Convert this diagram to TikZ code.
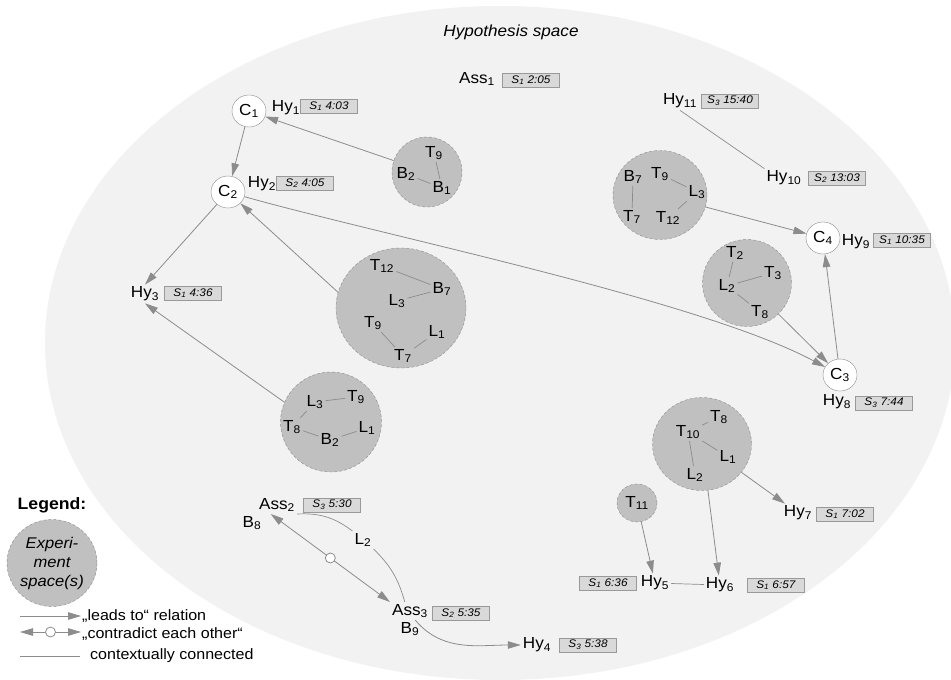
\documentclass[tikz,border=0pt]{standalone}
\usepackage{fontspec}
\setmainfont[FakeStretch=1.07]{Liberation Sans}
\usepackage{xcolor}
\usepackage{tikz}
\usetikzlibrary{arrows.meta, shapes.geometric, positioning}

\definecolor{hspace}{HTML}{F2F2F2}
\definecolor{espfill}{HTML}{C0C0C0}
\definecolor{linegrey}{HTML}{8C8C8C}
\definecolor{boxfill}{HTML}{D9D9D9}
\definecolor{boxline}{HTML}{999999}

\newcommand{\sx}[1]{\textsubscript{#1}}
\newcommand{\stamp}[2]{\textit{S\sx{#1} #2}}

\tikzset{
  lab/.style={font=\fontsize{16}{18}\selectfont, inner sep=2pt},
  tbox/.style={draw=boxline, fill=boxfill, font=\fontsize{11}{12}\selectfont,
    minimum width=57pt, minimum height=14pt, inner sep=0pt},
  cnode/.style={ellipse, draw=linegrey, fill=white, minimum width=34pt,
    minimum height=32pt, inner sep=0pt, font=\fontsize{16}{18}\selectfont},
  espace/.style={ellipse, draw=linegrey, dash pattern=on 3pt off 2pt,
    fill=espfill, inner sep=0pt, font=\fontsize{16}{18}\selectfont},
  leads/.style={draw=linegrey, line width=0.8pt, -{Triangle[length=13pt, width=7.5pt]}},
  contra/.style={draw=linegrey, line width=0.8pt,
    {Triangle[length=13pt, width=7.5pt]}-{Triangle[length=13pt, width=7.5pt]}},
  ctx/.style={draw=linegrey, line width=0.7pt},
  ocirc/.style={circle, draw=linegrey, fill=white, minimum size=10pt, inner sep=0pt},
  legtxt/.style={font=\fontsize{15}{17}\selectfont, inner sep=1pt},
}

\begin{document}
\begin{tikzpicture}[x=1pt, y=1pt]

    % =================================================================
    % 1. HYPOTHESIS SPACE
    % =================================================================
    \useasboundingbox (0,0) rectangle (951,-680);
    \fill[white] (0,0) rectangle (951,-680);
    \fill[hspace] (500,-343) ellipse [x radius=455, y radius=337];
    \node[font=\fontsize{16}{18}\selectfont\itshape] (htitle) at (511,-32) {Hypothesis space};

    % =================================================================
    % 2. EXPERIMENT SPACES
    % =================================================================
    \node[espace, minimum width=70pt, minimum height=70pt] (e1) at (427,-172) {};
    \node[espace, minimum width=94pt, minimum height=89pt] (e2) at (660,-195) {};
    \node[espace, minimum width=89pt, minimum height=87pt] (e3) at (747,-283) {};
    \node[espace, minimum width=130pt, minimum height=120pt] (e4) at (401,-308) {};
    \node[espace, minimum width=101pt, minimum height=100pt] (e5) at (331,-422) {};
    \node[espace, minimum width=99pt, minimum height=93pt] (e6) at (702,-444) {};
    \node[espace, minimum width=40pt, minimum height=38pt] (t11) at (637,-503) {T\sx{11}};

    % labels inside the experiment spaces
    \node[lab] (e1t9) at (434,-153) {T\sx{9}};
    \node[lab] (e1b2) at (406,-174) {B\sx{2}};
    \node[lab] (e1b1) at (442,-188) {B\sx{1}};

    \node[lab] (e2b7) at (633,-177) {B\sx{7}};
    \node[lab] (e2t9) at (660,-174) {T\sx{9}};
    \node[lab] (e2l3) at (697,-192) {L\sx{3}};
    \node[lab] (e2t7) at (632,-217) {T\sx{7}};
    \node[lab] (e2t12) at (668,-218) {T\sx{12}};

    \node[lab] (e3t2) at (735,-253) {T\sx{2}};
    \node[lab] (e3t3) at (773,-273) {T\sx{3}};
    \node[lab] (e3l2) at (727,-286) {L\sx{2}};
    \node[lab] (e3t8) at (760,-312) {T\sx{8}};

    \node[lab] (e4t12) at (382,-266) {T\sx{12}};
    \node[lab] (e4b7) at (442,-289) {B\sx{7}};
    \node[lab] (e4l3) at (397,-301) {L\sx{3}};
    \node[lab] (e4t9) at (373,-323) {T\sx{9}};
    \node[lab] (e4l1) at (437,-332) {L\sx{1}};
    \node[lab] (e4t7) at (403,-356) {T\sx{7}};

    \node[lab] (e5l3) at (315,-402) {L\sx{3}};
    \node[lab] (e5t9) at (356,-397) {T\sx{9}};
    \node[lab] (e5t8) at (292,-427) {T\sx{8}};
    \node[lab] (e5b2) at (330,-440) {B\sx{2}};
    \node[lab] (e5l1) at (367,-428) {L\sx{1}};

    \node[lab] (e6t8) at (719,-417) {T\sx{8}};
    \node[lab] (e6t10) at (688,-432) {T\sx{10}};
    \node[lab] (e6l1) at (728,-457) {L\sx{1}};
    \node[lab] (e6l2) at (695,-475) {L\sx{2}};

    % =================================================================
    % 3. CONCLUSIONS, HYPOTHESES, ASSUMPTIONS
    % =================================================================
    \node[cnode] (c1) at (249,-111) {C\sx{1}};
    \node[cnode] (c2) at (228,-192) {C\sx{2}};
    \node[cnode] (c3) at (840,-375) {C\sx{3}};
    \node[cnode] (c4) at (823,-238) {C\sx{4}};

    \node[lab] (hy1) at (286,-108) {Hy\sx{1}};
    \node[lab] (hy2) at (262,-184) {Hy\sx{2}};
    \node[lab] (hy3) at (145,-294) {Hy\sx{3}};
    \node[lab] (hy4) at (537,-645) {Hy\sx{4}};
    \node[lab] (hy5) at (655,-583) {Hy\sx{5}};
    \node[lab] (hy6) at (720,-585) {Hy\sx{6}};
    \node[lab] (hy7) at (798,-513) {Hy\sx{7}};
    \node[lab] (hy8) at (837,-402) {Hy\sx{8}};
    \node[lab] (hy9) at (856,-242) {Hy\sx{9}};
    \node[lab] (hy10) at (784,-178) {Hy\sx{10}};
    \node[lab] (hy11) at (680,-101) {Hy\sx{11}};

    \node[lab] (ass1) at (477,-79) {Ass\sx{1}};
    \node[lab] (ass2) at (277,-505) {Ass\sx{2}};
    \node[lab] (ass3) at (410,-611) {Ass\sx{3}};
    \node[lab] (b8) at (252,-523) {B\sx{8}};
    \node[lab] (b9) at (410,-629) {B\sx{9}};
    \node[lab] (l2) at (363,-540) {L\sx{2}};

    % time stamps
    \node[tbox] (tbass1) at (531,-80) {\stamp{1}{2:05}};
    \node[tbox] (tb1) at (329,-106) {\stamp{1}{4:03}};
    \node[tbox] (tb2) at (305,-183) {\stamp{2}{4:05}};
    \node[tbox] (tb3) at (193,-293) {\stamp{1}{4:36}};
    \node[tbox] (tb11) at (730,-101) {\stamp{3}{15:40}};
    \node[tbox] (tb10) at (837,-178) {\stamp{2}{13:03}};
    \node[tbox] (tb9) at (902,-240) {\stamp{1}{10:35}};
    \node[tbox] (tb8) at (884,-403) {\stamp{3}{7:44}};
    \node[tbox] (tb7) at (845,-514) {\stamp{1}{7:02}};
    \node[tbox] (tb5) at (608,-583) {\stamp{1}{6:36}};
    \node[tbox] (tb6) at (776,-585) {\stamp{1}{6:57}};
    \node[tbox] (tbass2) at (332,-505) {\stamp{3}{5:30}};
    \node[tbox] (tbass3) at (461,-613) {\stamp{2}{5:35}};
    \node[tbox] (tb4) at (588,-645) {\stamp{3}{5:38}};

    % =================================================================
    % 4. CONNECTORS
    % =================================================================
    % lines inside the experiment spaces
    \draw[ctx] (e1t9) -- (e1b1);
    \draw[ctx] (e1b2) -- (e1b1);
    \draw[ctx] (e2b7) -- (e2t7);
    \draw[ctx] (e2t9) -- (e2l3);
    \draw[ctx] (e2l3) -- (e2t12);
    \draw[ctx] (e3t2) -- (e3l2);
    \draw[ctx] (e3l2) -- (e3t3);
    \draw[ctx] (e3l2) -- (e3t8);
    \draw[ctx] (e4t12) -- (e4b7);
    \draw[ctx] (e4l3) -- (e4b7);
    \draw[ctx] (e4t9) -- (e4t7);
    \draw[ctx] (e4t7) -- (e4l1);
    \draw[ctx] (e5l3) -- (e5t9);
    \draw[ctx] (e5l3) -- (e5t8);
    \draw[ctx] (e5t8) -- (e5b2);
    \draw[ctx] (e5b2) -- (e5l1);
    \draw[ctx] (e6t8) -- (e6t10);
    \draw[ctx] (e6t10) -- (e6l1);
    \draw[ctx] (e6t10) -- (e6l2);

    % "leads to" relations
    \draw[leads] (e1) -- (c1);
    \draw[leads] (c1) -- (c2);
    \draw[leads] (c2) -- (hy3.north);
    \draw[leads] (e4.166) -- (c2);
    \draw[leads] (e5.157) -- (hy3.south);
    \draw[leads] (c2) .. controls (380,-235) and (700,-300) .. (c3);
    \draw[leads] (e2) -- (c4);
    \draw[leads] (e3) -- (c3);
    \draw[leads] (c3) -- (c4);
    \draw[leads] (e6) -- (hy7);
    \draw[leads] (e6) -- (hy6);
    \draw[leads] (t11) -- (hy5);
    \draw[leads] (ass3.300) to[out=-50, in=180] (hy4.west);

    % contextual links and contradiction
    \draw[ctx] (hy11.south) -- (hy10.north west);
    \draw[ctx] (hy5) -- (hy6);
    \draw[ctx] (ass2.south east) to[bend left=20] (l2.north west);
    \draw[ctx] (l2.south east) to[bend left=15] (ass3.120);
    \draw[contra] (ass2.235) -- node[ocirc] (xc) {} (ass3.north west);

    % =================================================================
    % 5. LEGEND
    % =================================================================
    \node[font=\fontsize{16.5}{18}\selectfont\bfseries] (leg) at (52,-505) {Legend:};
    \node[espace, minimum width=90pt, minimum height=87pt, align=center,
      font=\fontsize{15.5}{19}\selectfont\itshape] (legsp) at (52,-563)
      {Experi-\\ment\\space(s)};

    \node[legtxt, anchor=west] (lgt1) at (81,-616) {„leads to“ relation};
    \node[legtxt, anchor=west] (lgt2) at (81,-634) {„contradict each other“};
    \node[legtxt, anchor=west] (lgt3) at (89,-656) {contextually connected};

    \coordinate (lga) at (20,-616);
    \coordinate (lgb) at (20,-632);
    \coordinate (lgc) at (20,-656);
    \coordinate (lgd) at (80,-656);
    \draw[leads] (lga) -- (lgt1.west |- lga);
    \draw[contra] (lgb) -- node[ocirc] (lgo) {} (lgt2.west |- lgb);
    \draw[ctx] (lgc) -- (lgd);

\end{tikzpicture}
\end{document}
